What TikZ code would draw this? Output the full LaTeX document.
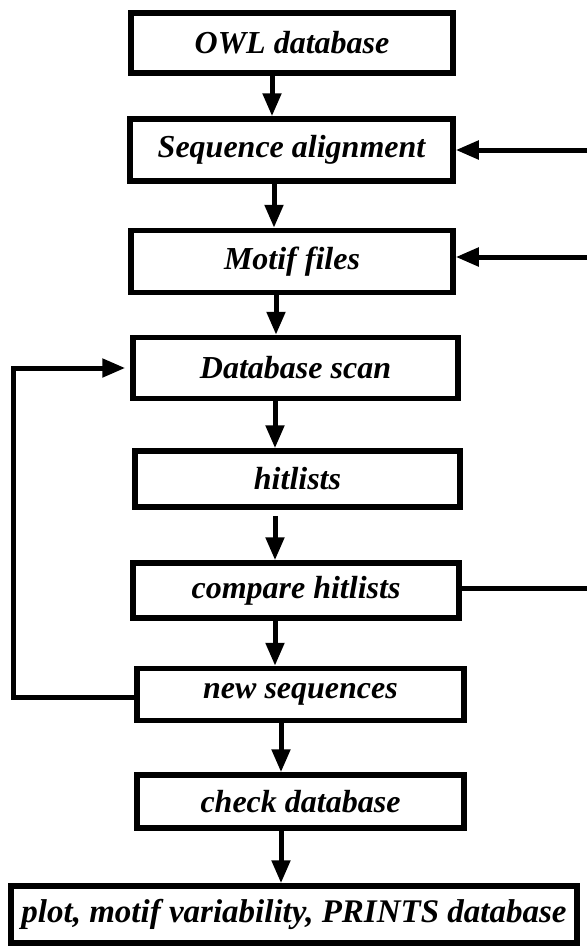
\documentclass[tikz,border=0pt]{standalone}
\usepackage{fontspec}
\setmainfont{Liberation Serif}
\usetikzlibrary{arrows.meta,calc}
\begin{document}
\begin{tikzpicture}[x=1pt,y=-1pt,
  box/.style={draw,line width=5.5pt,inner sep=0pt,font=\fontsize{32}{36}\selectfont\bfseries\itshape},
  conn/.style={line width=5pt},
  arr/.style={conn,-{Triangle[length=23pt,width=18pt]}}]
\useasboundingbox (0,0) rectangle (587,946);
\node[box,minimum width=322pt,minimum height=60pt] (owl) at (292,43) {OWL database};
\node[box,minimum width=323pt,minimum height=62pt] (seq) at (291.5,150) {Sequence alignment};
\node[box,minimum width=322pt,minimum height=62pt] (motif) at (292,261.5) {Motif files};
\node[box,minimum width=325pt,minimum height=61pt] (scan) at (295.5,368) {Database scan};
\node[box,minimum width=325pt,minimum height=56pt] (hit) at (297.5,479) {hitlists};
\node[box,minimum width=326pt,minimum height=55pt] (comp) at (296,590.5) {compare hitlists};
\node[box,minimum width=327pt,minimum height=52pt] (newseq) at (300.5,694.5) {new sequences};
\node[box,minimum width=327pt,minimum height=53pt] (check) at (300.5,801.5) {check database};
\node[box,minimum width=566pt,minimum height=57pt,font=\fontsize{33}{36}\selectfont\bfseries\itshape] (plot) at (294,914.5) {plot, motif variability, PRINTS database};
% vertical arrows
\draw[arr] (owl.south -| 272,0) -- (seq.north -| 272,0);
\draw[arr] (seq.south -| 274,0) -- (motif.north -| 274,0);
\draw[arr] (motif.south -| 276,0) -- (scan.north -| 276,0);
\draw[arr] (scan.south -| 275,0) -- (hit.north -| 275,0);
\coordinate (hs) at ($(hit.south -| 275,0)+(0,6)$);
\draw[arr] (hs) -- (comp.north -| 275,0);
\draw[arr] (comp.south -| 275,0) -- (newseq.north -| 275,0);
\draw[arr] (newseq.south -| 281,0) -- (check.north -| 281,0);
\draw[arr] (check.south -| 281,0) -- (plot.north -| 281,0);
% right feedback lines
\coordinate (r1) at (587,150);
\coordinate (r2) at (587,257);
\coordinate (r3) at (587,588);
\draw[arr] (r1) -- (seq.east |- r1);
\draw[arr] (r2) -- (motif.east |- r2);
\draw[conn] (comp.east |- r3) -- (r3);
% left loop
\coordinate (l1) at (13,697);
\coordinate (l2) at (13,368);
\coordinate (lt) at ($(scan.west)+(-5,0)$);
\draw[arr,line join=miter] (newseq.west |- l1) -- (l1) -- (l2) -- (lt);
\end{tikzpicture}
\end{document}
